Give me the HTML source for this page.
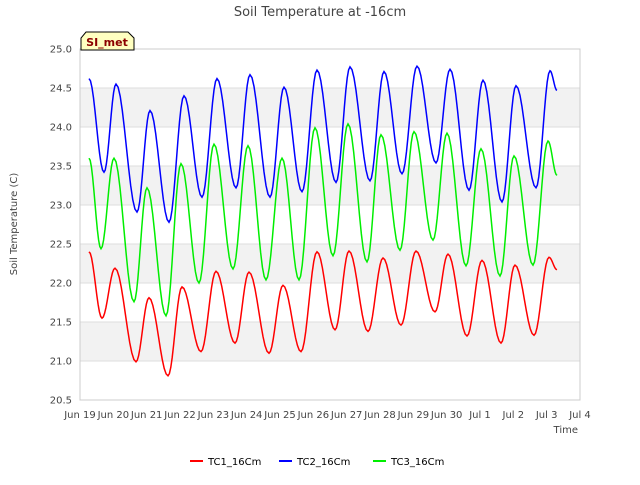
<!DOCTYPE html>
<html><head><meta charset="utf-8"><style>
body{margin:0;background:#fff;font-family:"Liberation Sans","DejaVu Sans",sans-serif}
svg text{font-family:"DejaVu Sans","Liberation Sans",sans-serif}
</style></head><body>
<svg id="chart" width="640" height="480" xmlns="http://www.w3.org/2000/svg">
<rect width="640" height="480" fill="#fff"/>
<g id="bands"></g>
<g id="grid"></g>
<rect x="80" y="49" width="500" height="351" fill="none" stroke="#ccc"/>
<g id="yticks"></g><g id="xticks"></g>
<g id="series"></g>
<text x="320" y="16" text-anchor="middle" font-size="13" fill="#444">Soil Temperature at -16cm</text>
<text transform="translate(17,224) rotate(-90)" text-anchor="middle" font-size="10" fill="#444">Soil Temperature (C)</text>
<text x="578" y="433" text-anchor="end" font-size="10" fill="#444">Time</text>
<g>
<path d="M81,50 L81,38 L86,32 L128,32 L134,38 L134,50 Z" fill="#ffffc0" stroke="#000" stroke-width="1"/>
<text x="107" y="46" text-anchor="middle" font-size="11" font-weight="bold" fill="#8b0000">SI_met</text>
</g>
<g id="legend"></g>
</svg>
<script>
const yTicks=[20.5,21.0,21.5,22.0,22.5,23.0,23.5,24.0,24.5,25.0];
const xTickLabels=["Jun 19","Jun 20","Jun 21","Jun 22","Jun 23","Jun 24","Jun 25","Jun 26","Jun 27","Jun 28","Jun 29","Jun 30","Jul 1","Jul 2","Jul 3","Jul 4"];
const seriesNames=["TC1_16Cm","TC2_16Cm","TC3_16Cm"];
const tc1Days=[0.27,0.66,1.05,1.68,2.07,2.64,3.06,3.63,4.08,4.65,5.07,5.67,6.09,6.63,7.11,7.65,8.07,8.64,9.09,9.63,10.08,10.65,11.04,11.61,12.06,12.63,13.05,13.62,14.07,14.31];
const tc1Values=[22.40,21.55,22.19,20.99,21.81,20.81,21.95,21.12,22.15,21.23,22.14,21.10,21.97,21.12,22.40,21.40,22.41,21.38,22.32,21.46,22.41,21.63,22.37,21.32,22.29,21.23,22.23,21.33,22.33,22.17];
const tc2Days=[0.27,0.72,1.08,1.71,2.10,2.67,3.12,3.66,4.11,4.68,5.10,5.70,6.12,6.66,7.11,7.68,8.10,8.70,9.12,9.66,10.11,10.68,11.10,11.67,12.09,12.66,13.08,13.68,14.10,14.31];
const tc2Values=[24.62,23.42,24.55,22.91,24.21,22.78,24.40,23.10,24.62,23.22,24.67,23.10,24.51,23.17,24.73,23.29,24.77,23.31,24.71,23.40,24.78,23.54,24.74,23.19,24.60,23.04,24.53,23.22,24.72,24.47];
const tc3Days=[0.27,0.63,1.02,1.62,2.01,2.58,3.03,3.57,4.02,4.59,5.04,5.58,6.06,6.57,7.05,7.59,8.04,8.61,9.03,9.60,10.02,10.59,11.01,11.58,12.03,12.60,13.02,13.59,14.04,14.31];
const tc3Values=[23.60,22.44,23.60,21.76,23.22,21.58,23.53,22.00,23.78,22.18,23.76,22.04,23.60,22.04,23.99,22.35,24.04,22.27,23.90,22.42,23.94,22.55,23.92,22.22,23.72,22.09,23.63,22.23,23.82,23.38];

const NS="http://www.w3.org/2000/svg";
const X0=80,X1=580,Y0=400,Y1=49,YMIN=20.5,YMAX=25,DMAX=15;
const xs=d=>X0+(X1-X0)*d/DMAX;
const ys=v=>Y0-(Y0-Y1)*(v-YMIN)/(YMAX-YMIN);
function mk(tag,attrs,parent){const e=document.createElementNS(NS,tag);for(const k in attrs)e.setAttribute(k,attrs[k]);parent.appendChild(e);return e;}
const bands=document.getElementById('bands'),grid=document.getElementById('grid');
for(let i=0;i<yTicks.length-1;i++){
  if(i%2===1){const r=mk('rect',{x:X0,y:ys(yTicks[i+1]),width:X1-X0,height:ys(yTicks[i])-ys(yTicks[i+1]),fill:'#f2f2f2'},bands);
  
  }
}
const yt=document.getElementById('yticks');
yTicks.forEach(v=>{
  const l=mk('line',{x1:X0,x2:X1,y1:ys(v),y2:ys(v),stroke:'#ddd'},grid);
  
  
  const t=mk('text',{x:X0-8,y:ys(v)+3.5,'text-anchor':'end','font-size':'10',fill:'#444'},yt);
  t.textContent=v.toFixed(1);
  
  
});
const xt=document.getElementById('xticks');
xTickLabels.forEach((s,i)=>{
  const t=mk('text',{x:xs(i),y:Y0+18,'text-anchor':'middle','font-size':'10',fill:'#444'},xt);
  t.textContent=s;
  
  
});
const colors=["#ff0000","#0000ff","#00ee00"];
const allDays=[tc1Days,tc2Days,tc3Days],allVals=[tc1Values,tc2Values,tc3Values];
const sg=document.getElementById('series');
allDays.forEach((days,si)=>{
  const vals=allVals[si];let d='M'+xs(days[0]).toFixed(1)+','+ys(vals[0]).toFixed(1);
  for(let i=0;i<days.length-1;i++){
    for(let k=1;k<=10;k++){const f=k/10,e=(1-Math.cos(Math.PI*f))/2;
      d+=' L'+xs(days[i]+(days[i+1]-days[i])*f).toFixed(1)+','+ys(vals[i]+(vals[i+1]-vals[i])*e).toFixed(1);}
  }
  const p=mk('path',{d:d,fill:'none',stroke:colors[si],'stroke-width':'1.5'},sg);
  
  
});
const lg=document.getElementById('legend');const lx=[190,279,373];
seriesNames.forEach((n,i)=>{
  const g=mk('g',{},lg);
  
  
  mk('line',{x1:lx[i],x2:lx[i]+13,y1:461,y2:461,stroke:colors[i],'stroke-width':'2'},g);
  const t=mk('text',{x:lx[i]+18,y:465,'font-size':'10',fill:'#000'},g);t.textContent=n;
});
</script>
</body></html>
